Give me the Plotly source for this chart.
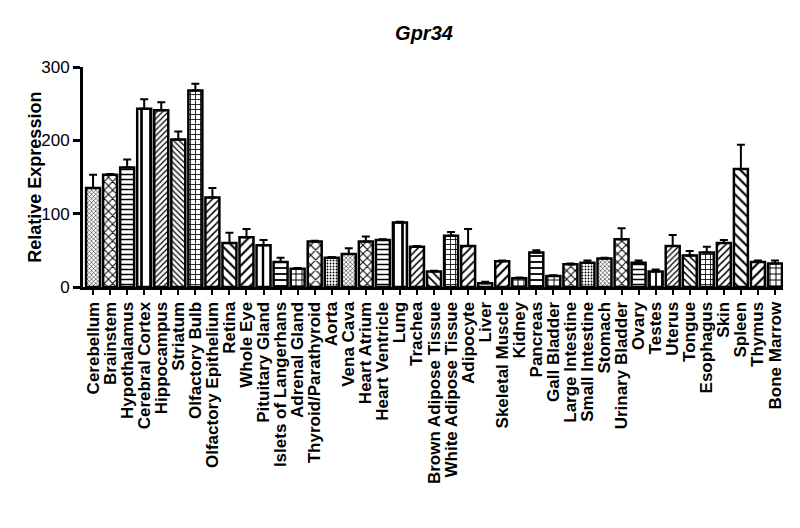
import plotly.graph_objects as go

tissues = [
    "Cerebellum", "Brainstem", "Hypothalamus", "Cerebral Cortex", "Hippocampus",
    "Striatum", "Olfactory Bulb", "Olfactory Epithelium", "Retina", "Whole Eye",
    "Pituitary Gland", "Islets of Langerhans", "Adrenal Gland", "Thyroid/Parathyroid",
    "Aorta", "Vena Cava", "Heart Atrium", "Heart Ventricle", "Lung", "Trachea",
    "Brown Adipose Tissue", "White Adipose Tissue", "Adipocyte", "Liver",
    "Skeletal Muscle", "Kidney", "Pancreas", "Gall Bladder", "Large Intestine",
    "Small Intestine", "Stomach", "Urinary Bladder", "Ovary", "Testes", "Uterus",
    "Tongue", "Esophagus", "Skin", "Spleen", "Thymus", "Bone Marrow",
]
expression = [
    135, 153, 163, 243, 241, 201, 268, 122, 60, 68,
    57, 34, 25, 62, 40, 45, 62, 64, 88, 55,
    21, 70, 56, 5, 35, 12, 47, 15, 31, 33,
    39, 65, 33, 21, 56, 43, 47, 60, 161, 34, 32,
]
sem = [
    18, 1, 11, 13, 11, 11, 9, 13, 14, 11,
    7, 6, 1, 1, 1, 8, 7, 1, 1, 1,
    1, 5, 23, 2, 1, 1, 3, 1, 1, 3,
    1, 15, 3, 3, 15, 6, 8, 4, 33, 2, 4,
]
patterns = [
    "x", "x", "-", "|", "/", "\\", "+", "/", "\\", "/",
    "|", "-", "+", "x", ".", "x", "x", "-", "|", "/",
    "\\", "+", "/", "", "/", "+", "-", "+", "x", ".",
    "x", "x", "-", "|", "/", "\\", "+", "/", "\\", "/", "+",
]
sizes = [
    3, 6, 5, 9, 4, 4, 5, 5, 7, 7,
    8, 6, 6, 7, 3, 3, 6, 5, 9, 5,
    6, 5, 6, 6, 7, 6, 6, 6, 6, 3,
    3, 6, 5, 6, 4, 5, 5, 5, 7, 7, 6,
]

fig = go.Figure(go.Bar(
    x=tissues,
    y=expression,
    marker=dict(
        color="white",
        line=dict(color="black", width=2.5),
        pattern=dict(shape=patterns, size=sizes, solidity=0.3,
                     fgcolor="black", bgcolor="white", fillmode="replace"),
    ),
    error_y=dict(type="data", array=sem, arrayminus=[0] * len(sem),
                 symmetric=False, color="black", thickness=2, width=4),
))

fig.update_layout(
    width=800, height=528,
    margin=dict(l=75, r=25, t=59, b=249),
    plot_bgcolor="white", paper_bgcolor="white",
    font=dict(family="Liberation Sans, Arial, sans-serif", color="black"),
    title=dict(text="<b><i>Gpr34</i></b>", x=0.52, xanchor="center",
               y=0.953, yanchor="middle", font=dict(size=20)),
    bargap=0.18,
    showlegend=False,
)
# y title as an annotation so it sits where the original has it
fig.add_annotation(
    text="<b>Relative Expression</b>", textangle=-90,
    xref="paper", yref="paper", x=-0.069, y=0.5,
    xanchor="center", yanchor="middle", showarrow=False,
    font=dict(size=18),
)
fig.update_xaxes(
    range=[-0.59, 40.47], tickangle=-90,
    tickmode="array", tickvals=tissues,
    ticktext=["<b>" + t + "</b>" for t in tissues],
    showline=True, linecolor="black", linewidth=3,
    ticks="outside", ticklen=5, tickwidth=2, tickcolor="black",
    tickfont=dict(size=17),
)
fig.update_yaxes(
    range=[0, 300], tickvals=[0, 100, 200, 300],
    showline=True, linecolor="black", linewidth=3, showgrid=False, zeroline=False,
    ticks="outside", ticklen=7, tickwidth=3, tickcolor="black",
    tickfont=dict(size=17), tickprefix="<b>", ticksuffix="</b>",
)

fig.write_html("out.html")
